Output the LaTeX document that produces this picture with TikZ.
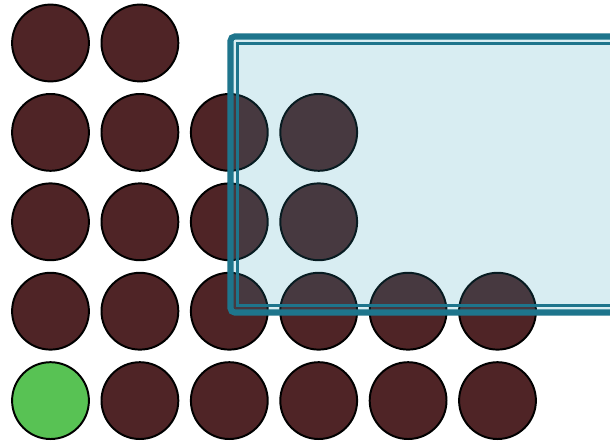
\documentclass[tikz,border=0pt]{standalone}
\definecolor{dotred}{RGB}{79,36,38}
\definecolor{dotgreen}{RGB}{88,194,84}
\definecolor{boxteal}{RGB}{30,117,140}
\definecolor{boxfill}{RGB}{39,155,183}
\begin{document}
\begin{tikzpicture}[x=0.025cm,y=-0.025cm,
    dot/.style={circle,draw=black,line width=1.4pt,fill=dotred,
        minimum size=1.92cm,inner sep=0pt}]

    % Picture frame
    \clip (0,0) rectangle (610,440);

    % Grid of dots, rows 1 to 4
    \foreach \r/\n in {1/2,2/4,3/4,4/6} {
        \foreach \c in {1,...,\n} {
            \node[dot] (d-\r-\c) at ({50.5+89.4*(\c-1)},{43+89.4*(\r-1)}) {};
        }
    }

    % Bottom row, first dot in green
    \node[dot,fill=dotgreen] (d-5-1) at (50.5,400.6) {};
    \foreach \c in {2,...,6} {
        \node[dot] (d-5-\c) at ({50.5+89.4*(\c-1)},400.6) {};
    }

    % Highlight box
    \fill[boxfill,opacity=0.18] (230.5,36.5) rectangle (640,312.5);
    \draw[boxteal,line width=4.3pt,rounded corners=3pt] (230.5,36.5) rectangle (640,312.5);
    \draw[boxteal,line width=2pt] (237.5,43.5) rectangle (640,305.5);

\end{tikzpicture}
\end{document}
